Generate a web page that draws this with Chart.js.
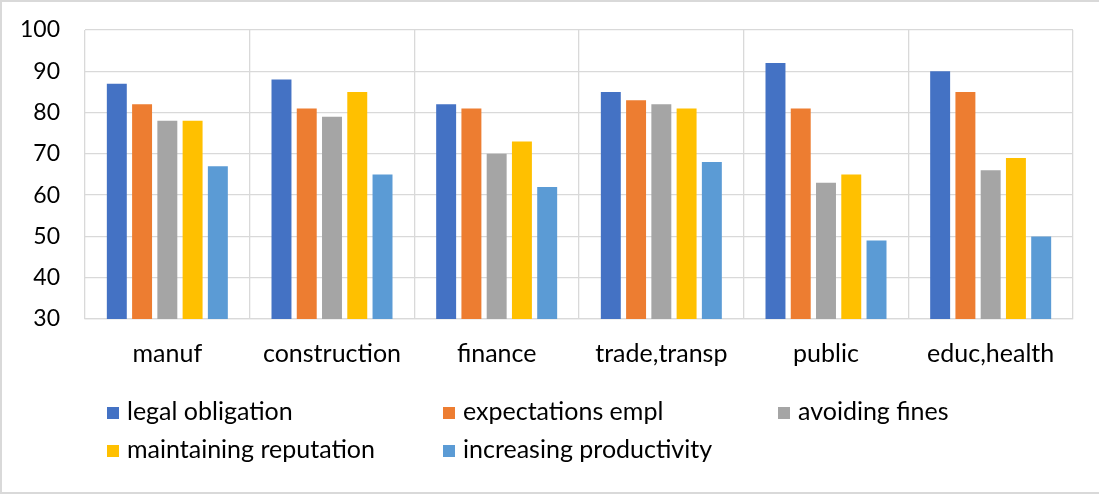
<!DOCTYPE html>
<html>
<head>
<meta charset="utf-8">
<script src="https://cdn.jsdelivr.net/npm/chart.js@4.4.1/dist/chart.umd.min.js"></script>
<style>
  html, body { margin: 0; padding: 0; background: #fff; }
  #wrap { position: relative; width: 1101px; height: 495px; overflow: hidden; }
  #frame { position: absolute; left: 0; top: 0; width: 1099px; height: 494px;
           border: 2px solid #d9d9d9; border-right: none; box-sizing: border-box; }
  #myChart { position: absolute; left: 0; top: 0; }
  #legend { position: absolute; left: 0; top: 0; font-family: Lato, "Open Sans", sans-serif;
            font-size: 25px; color: #000; }
  .item { position: absolute; white-space: nowrap; line-height: 30px; }
  .item span.box { display: inline-block; width: 12px; height: 12px; margin-right: 8px;
                   vertical-align: 1px; }
</style>
</head>
<body>
<div id="wrap">
  <div id="frame"></div>
  <canvas id="myChart" width="1101" height="495"></canvas>
  <div id="legend"></div>
</div>
<script>
// ===== data =====
const sectors = ['manuf', 'construction', 'finance', 'trade,transp', 'public', 'educ,health'];

const legalObligation        = [87, 88, 82, 85, 92, 90];
const expectationsEmpl       = [82, 81, 81, 83, 81, 85];
const avoidingFines          = [78, 79, 70, 82, 63, 66];
const maintainingReputation  = [78, 85, 73, 81, 65, 69];
const increasingProductivity = [67, 65, 62, 68, 49, 50];

const seriesNames  = ['legal obligation', 'expectations empl', 'avoiding fines',
                      'maintaining reputation', 'increasing productivity'];
const seriesValues = [legalObligation, expectationsEmpl, avoidingFines,
                      maintainingReputation, increasingProductivity];
const seriesColors = ['#4472C4', '#ED7D31', '#A5A5A5', '#FFC000', '#5B9BD5'];

const yTicks = { min: 30, max: 100, step: 10 };

// ===== legend (two rows, three columns) =====
const legendPos = [[107, 395], [443, 395], [778, 395], [107, 433], [443, 433]];
document.getElementById('legend').innerHTML = seriesNames.map((name, i) =>
  `<div class="item" style="left:${legendPos[i][0]}px;top:${legendPos[i][1]}px">` +
  `<span class="box" style="background:${seriesColors[i]}"></span>${name}</div>`
).join('');

// ===== chart =====
const font = { family: 'Lato, "Open Sans", sans-serif', size: 25 };
const yFont = { family: 'Lato, "Open Sans", sans-serif', size: 23 };

const data = {
  labels: sectors,
  datasets: seriesNames.map((name, i) => ({
    label: name,
    data: seriesValues[i],
    backgroundColor: seriesColors[i],
    borderWidth: 0,
    barPercentage: 0.79,
    categoryPercentage: 0.767,
  })),
};

const config = {
  type: 'bar',
  data,
  options: {
    responsive: false,
    animation: false,
    layout: { padding: { left: 0, right: 28, top: 30, bottom: 116 } },
    plugins: {
      legend: { display: false },
      tooltip: { enabled: false },
    },
    scales: {
      x: {
        grid: { color: '#d9d9d9', lineWidth: 1.3, drawTicks: false, offset: true },
        border: { color: '#d9d9d9', width: 1.3 },
        ticks: { color: '#000', font, padding: 20 },
        afterFit: s => { s.height = 60; },
      },
      y: {
        min: yTicks.min,
        max: yTicks.max,
        grid: { color: '#d9d9d9', lineWidth: 1.3, drawTicks: false },
        border: { display: false },
        ticks: { stepSize: yTicks.step, color: '#000', font: yFont, padding: 25 },
        // fixed axis width, and no extra room reserved for the top label
        afterFit: s => { s.width = 85; s.paddingTop = 0; s.paddingBottom = 0; },
      },
    },
  },
};

new Chart(document.getElementById('myChart'), config);
</script>
</body>
</html>
